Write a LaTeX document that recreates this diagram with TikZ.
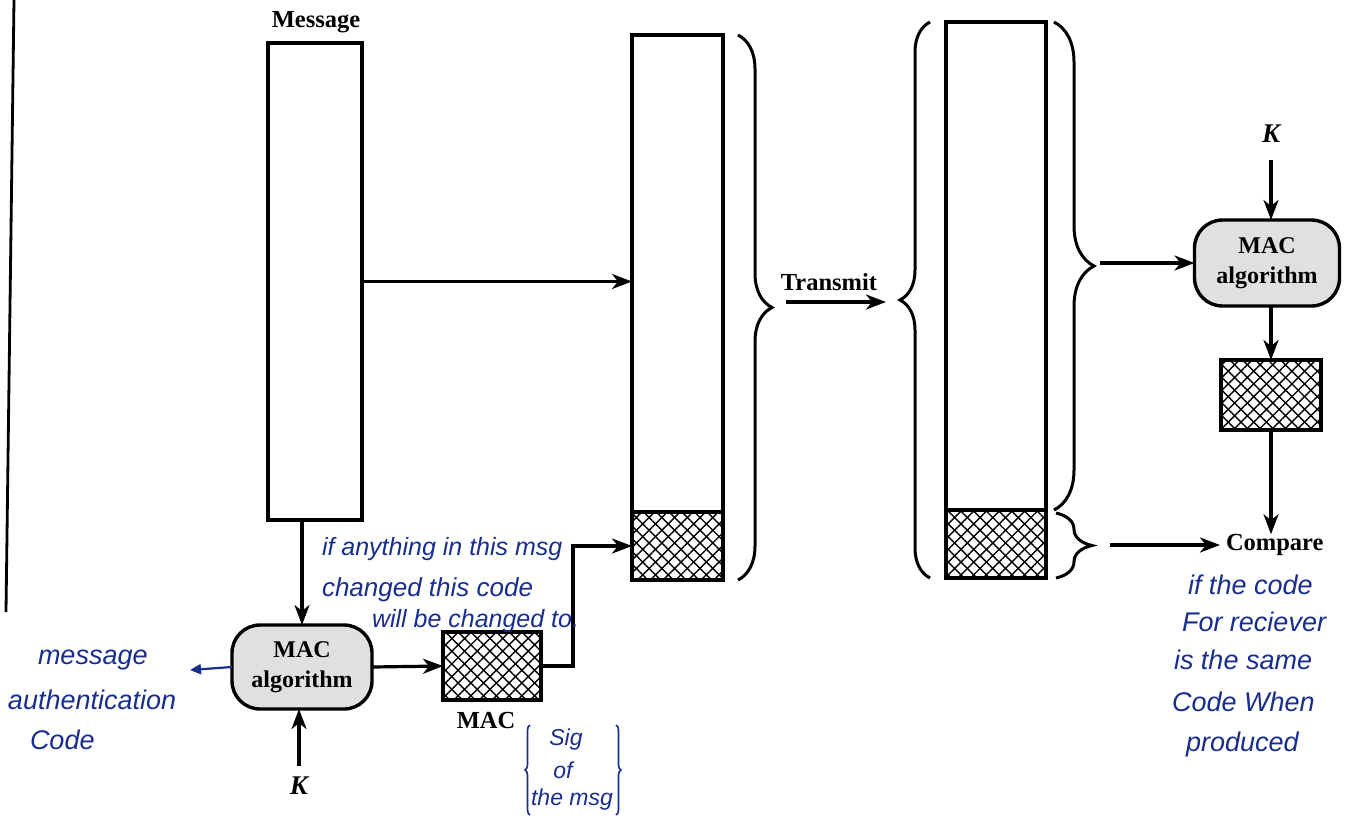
\documentclass[tikz,border=0pt]{standalone}
\usepackage{fontspec}
\setmainfont{Liberation Serif}
\newfontfamily\handfont{Liberation Sans}
\usetikzlibrary{arrows.meta,patterns.meta,decorations.pathreplacing,calc}
\definecolor{ink}{RGB}{25,45,140}
\definecolor{algfill}{gray}{0.88}
\tikzset{
  lbl/.style={font=\fontsize{24.5}{30}\selectfont\bfseries},
  kl/.style={font=\fontsize{27}{28}\selectfont\bfseries\itshape},
  blockbox/.style={draw, line width=3.4pt, fill=white},
  hatchbox/.style={draw, line width=3.4pt,
    pattern={Lines[angle=45,distance=9pt,line width=1.4pt]},
    postaction={pattern={Lines[angle=-45,distance=9pt,line width=1.4pt]}}},
  algbox/.style={draw, line width=3.4pt, fill=algfill, rounded corners=28pt,
    minimum width=140pt, minimum height=84pt, align=center,
    font=\fontsize{24}{30}\selectfont\bfseries},
  conn/.style={line width=3.2pt, -{Stealth[length=20pt,width=15pt,inset=6pt]}},
  bigbrace/.style={line width=3pt, decorate, decoration={brace, amplitude=#1}},
  note/.style={ink, font=\handfont\itshape\fontsize{27}{30}\selectfont, anchor=west},
  smallnote/.style={ink, font=\handfont\itshape\fontsize{23}{26}\selectfont},
  smallbrace/.style={ink, line width=1.6pt, decorate, decoration={brace, amplitude=5pt}},
}
\begin{document}
\begin{tikzpicture}[x=1pt,y=-1pt, every node/.style={inner sep=0pt, outer sep=0pt}]
\useasboundingbox (0,0) rectangle (1349,823);

% page edge line
\coordinate (edgeA) at (14,0);
\coordinate (edgeB) at (6,612);
\draw[line width=2.8pt] (edgeA) -- (edgeB);

% sender message block
\node[lbl] (msglabel) at (316,22) {Message};
\node[blockbox, minimum width=94pt, minimum height=477pt] (msg) at (315,281.5) {};

% MAC algorithm (sender)
\node[algbox] (mac1) at (302,667) {MAC\\algorithm};
\node[kl] (k1) at (299,786) {K};
\node[hatchbox, minimum width=98pt, minimum height=68pt] (macbox) at (492,666) {};
\node[lbl] (maclabel) at (486,720) {MAC};

% transmitted block (sender side)
\node[blockbox, minimum width=91pt, minimum height=477pt] (body2) at (677.5,273.5) {};
\node[hatchbox, minimum width=91pt, minimum height=68pt] (hatch2) at (677.5,546) {};

% transmitted block (receiver side)
\node[blockbox, minimum width=100pt, minimum height=488pt] (body3) at (996,266) {};
\node[hatchbox, minimum width=100pt, minimum height=68pt] (hatch3) at (996,544) {};

% receiver MAC algorithm
\node[kl] (k2) at (1271,134) {K};
\node[algbox, minimum width=145pt, minimum height=86pt] (mac2) at (1267,263) {MAC\\algorithm};
\node[hatchbox, minimum width=100pt, minimum height=70pt] (hatch4) at (1271,395) {};
\node[lbl, anchor=west] (cmp) at (1226,545) {Compare};

% Transmit
\node[lbl] (tx) at (829,282) {Transmit};
\coordinate (txA) at (786,302);
\coordinate (txB) at (886,302);
\draw[conn] (txA) -- (txB);

% braces
\coordinate (b2a) at (738,35);
\coordinate (b2b) at (738,580);
\draw[bigbrace=34pt] (b2a) -- (b2b);
\coordinate (b3a) at (930,578);
\coordinate (b3b) at (930,22);
\draw[bigbrace=30pt] (b3a) -- (b3b);
\coordinate (b4a) at (1054,22);
\coordinate (b4b) at (1054,510);
\draw[bigbrace=40pt] (b4a) -- (b4b);
\coordinate (b5a) at (1056,513);
\coordinate (b5b) at (1056,578);
\draw[bigbrace=36pt] (b5a) -- (b5b);

% connectors
\draw[conn] (msg.south -| mac1.north) -- (mac1.north);
\draw[conn] (msg.east) -- (msg.east -| body2.west);
\coordinate (k1top) at (299,766);
\draw[conn] (k1top) -- (k1top |- mac1.south);
\draw[conn] (mac1.east) -- (macbox.west);
\draw[conn] (macbox.east) -- ++(32,0) |- (hatch2.west);
\coordinate (rx1) at (1100,263);
\draw[conn] (rx1) -- (mac2.west);
\coordinate (rx2) at (1110,545);
\draw[conn, shorten >=6pt] (rx2) -- (cmp.west);
\coordinate (k2bot) at (1271,160);
\draw[conn] (k2bot) -- (k2bot |- mac2.north);
\draw[conn] (mac2.south -| hatch4.north) -- (hatch4.north);
\draw[conn] (hatch4.south) -- (hatch4.south |- cmp.north);

% handwritten notes
\coordinate (macnote) at (190,670);
\draw[ink, line width=2.2pt, -{Triangle[length=11pt,width=10pt]}] (mac1.west) -- (macnote);
\node[note] (n1) at (38,660) {message};
\node[note] (n2) at (8,700) {authentication};
\node[note] (n3) at (30,740) {Code};

\node[note, font=\handfont\itshape\fontsize{25}{28}\selectfont] (n4) at (322,549) {if anything in this msg};
\node[note, font=\handfont\itshape\fontsize{26}{28}\selectfont] (n5) at (322,590) {changed this code};
\node[note, font=\handfont\itshape\fontsize{25}{28}\selectfont] (n6) at (372,621) {will be changed to.};

\node[smallnote] (s1) at (566,740) {Sig};
\node[smallnote] (s2) at (563,770) {of};
\node[smallnote] (s3) at (572,800) {the msg};
\coordinate (sbA) at (530,815);
\coordinate (sbB) at (530,725);
\draw[smallbrace] (sbA) -- (sbB);
\coordinate (sbC) at (616,725);
\coordinate (sbD) at (616,815);
\draw[smallbrace] (sbC) -- (sbD);

\node[note] (r1) at (1188,585) {if the code};
\node[note] (r2) at (1182,622) {For reciever};
\node[note] (r3) at (1174,660) {is the same};
\node[note] (r4) at (1172,702) {Code When};
\node[note] (r5) at (1186,745) {produced};
\end{tikzpicture}
\end{document}
